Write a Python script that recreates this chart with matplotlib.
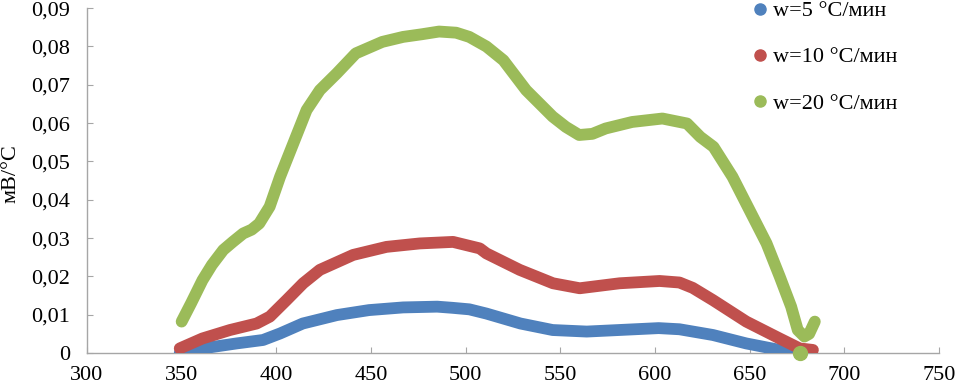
import matplotlib
matplotlib.use("Agg")
import matplotlib.pyplot as plt
from matplotlib.lines import Line2D
from matplotlib.ticker import FuncFormatter, MultipleLocator

# ---- data ----
blue_T = [349, 361, 379, 393, 402, 414, 432, 449, 467, 485, 493, 502, 511, 529,
          546, 564, 581, 602, 613, 630.7, 648.3, 665.9, 676.5, 680]
blue_v = [0.0, 0.0012, 0.0025, 0.0034, 0.0051, 0.0077, 0.0099, 0.0112, 0.0119,
          0.0121, 0.0118, 0.0114, 0.0103, 0.0077, 0.0060, 0.0056, 0.0060, 0.0065,
          0.0062, 0.0047, 0.0025, 0.0008, 0.0, 0.0]

red_T = [349, 361, 375.5, 389.6, 396.6, 405.4, 414.2, 423, 440.6, 458.2, 475.8,
         493.4, 507.5, 511, 528.6, 546.2, 560.3, 581.4, 602.5, 613, 620, 630.7,
         648.3, 665.9, 676.5, 683.5]
red_v = [0.0012, 0.0038, 0.0060, 0.0077, 0.0095, 0.0138, 0.0182, 0.0217, 0.0256,
         0.0277, 0.0286, 0.0290, 0.0273, 0.0260, 0.0217, 0.0182, 0.0169, 0.0182,
         0.0188, 0.0184, 0.0170, 0.0138, 0.0082, 0.0038, 0.0012, 0.0008]

green_T = [350, 355, 361, 366, 372, 377, 382.5, 387, 391, 396.5, 402, 409, 416,
           423, 432, 442, 456, 467, 477, 486, 495, 502, 511, 520, 532, 546, 553,
           560, 567, 574, 588, 604, 617, 624, 631, 641, 650, 659, 666, 672, 675.5,
           679, 681.5, 684.5]
green_v = [0.0082, 0.0130, 0.0190, 0.0230, 0.0269, 0.0290, 0.0312, 0.0322, 0.0338,
           0.0382, 0.0460, 0.0547, 0.0634, 0.0686, 0.0730, 0.0782, 0.0812, 0.0825,
           0.0832, 0.0839, 0.0836, 0.0825, 0.0800, 0.0764, 0.0686, 0.0617, 0.0590,
           0.0569, 0.0572, 0.0586, 0.0603, 0.0612, 0.0599, 0.0564, 0.0538, 0.0460,
           0.0373, 0.0286, 0.0199, 0.0121, 0.0060, 0.0043, 0.0050, 0.0082]
green_out_T = [676.5]
green_out_v = [0.0]

labels = ["w=5 °C/мин", "w=10 °C/мин", "w=20 °C/мин"]
colors = ["#4F81BD", "#C0504D", "#9BBB59"]
y_label = "мВ/°C"

plt.rcParams['font.family'] = ['Liberation Serif', 'DejaVu Serif']

fig = plt.figure(figsize=(9.56, 3.89), dpi=100)
ax = fig.add_axes([0.091, 0.0925, 0.891, 0.8865])

series = [(blue_T, blue_v), (red_T, red_v), (green_T, green_v)]
for (T, v), c in zip(series, colors):
    ax.plot(T, v, color=c, lw=8.5, solid_capstyle='round', solid_joinstyle='round',
            zorder=3)
ax.plot(green_out_T, green_out_v, 'o', color=colors[2], ms=10, zorder=4,
        clip_on=False)

ax.set_xlim(300, 750)
ax.set_ylim(0, 0.09)
ax.xaxis.set_major_locator(MultipleLocator(50))
ax.yaxis.set_major_locator(MultipleLocator(0.01))

def yfmt(v, pos):
    if abs(v) < 1e-9:
        return "0"
    return f"{v:.2f}".replace(".", ",")
ax.yaxis.set_major_formatter(FuncFormatter(yfmt))

for s in ['top', 'right']:
    ax.spines[s].set_visible(False)
for s in ['left', 'bottom']:
    ax.spines[s].set_color('#A6A6A6')
    ax.spines[s].set_linewidth(1.0)
ax.tick_params(axis='both', direction='in', length=4, color='#A6A6A6',
               labelsize=16)
ax.tick_params(axis='y', pad=12)
ax.tick_params(axis='x', pad=9)

fig.text(0.011, 0.555, y_label, rotation=90, ha='center', va='center', fontsize=16)

handles = [Line2D([], [], marker='o', ls='', color=c, ms=8) for c in colors]
fig.legend(handles, labels, loc='upper left', bbox_to_anchor=(0.789, 0.998),
           frameon=False, fontsize=16, handlelength=0.55, handletextpad=0.3,
           labelspacing=1.15, borderpad=0, borderaxespad=0)

fig.savefig("out.png", dpi=100)
